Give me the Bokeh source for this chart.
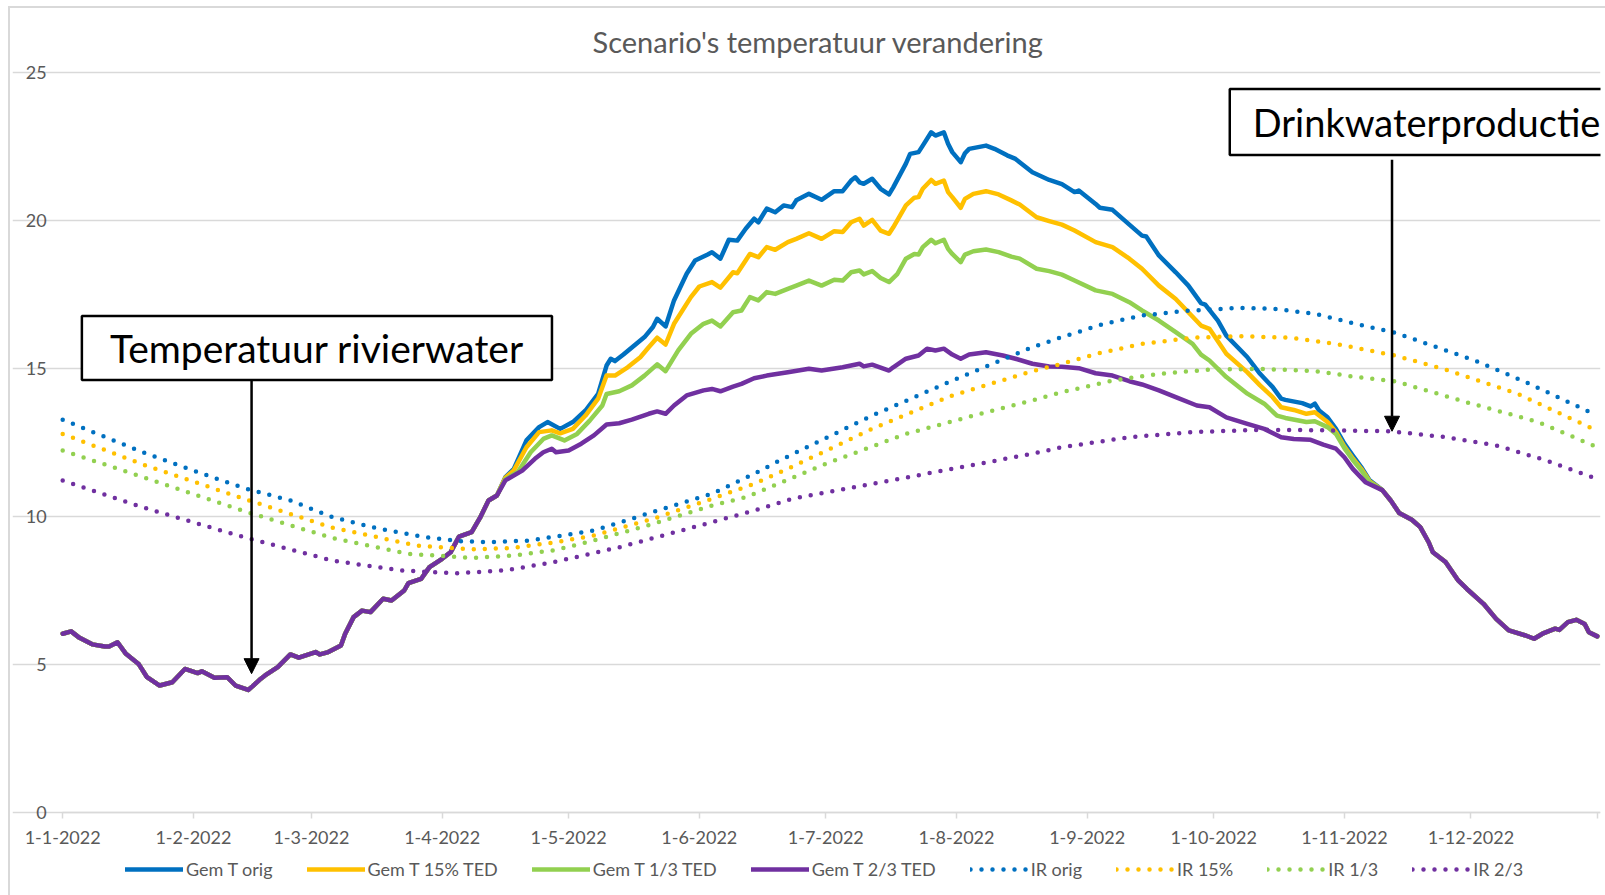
from bokeh.plotting import figure
from bokeh.models import (Range1d, FixedTicker, Legend, LegendItem, Label, Arrow, NormalHead)
from bokeh.embed import file_html
from bokeh.resources import INLINE

# ---------------- data ----------------
title_text = "Scenario's temperatuur verandering"

month_days = [0, 31, 59, 90, 120, 151, 181, 212, 243, 273, 304, 334, 364]
month_labels = ["1-1-2022", "1-2-2022", "1-3-2022", "1-4-2022", "1-5-2022", "1-6-2022",
                "1-7-2022", "1-8-2022", "1-9-2022", "1-10-2022", "1-11-2022", "1-12-2022", ""]
y_ticks = [0, 5, 10, 15, 20, 25]
day_first, day_last = 0, 364.75

# part shared by all four river-water series (Jan - mid Apr)
start_days = [0, 2, 4, 7, 10, 11, 13, 15, 18, 20, 23, 26, 29, 32, 33, 36, 39, 41, 44, 45,
              47, 48, 51, 54, 56, 60, 61, 63, 66, 67, 69, 71, 73, 76, 78, 81, 82, 85, 87, 90,
              92, 94, 97, 99, 101, 103]
start_temp = [6.03, 6.11, 5.89, 5.67, 5.60, 5.60, 5.74, 5.35, 5.01, 4.56, 4.28, 4.39, 4.84, 4.70,
              4.76, 4.54, 4.56, 4.28, 4.13, 4.25, 4.51, 4.62, 4.90, 5.33, 5.22, 5.41, 5.33, 5.41,
              5.63, 6.03, 6.59, 6.81, 6.76, 7.21, 7.15, 7.49, 7.74, 7.88, 8.28, 8.56, 8.78, 9.31,
              9.46, 9.95, 10.53, 10.70]

# part shared by all four river-water series (Nov - Dec)
end_days = [313, 315, 317, 320, 322, 324, 325, 328, 331, 333, 337, 340, 343, 347, 349, 351,
            354, 355, 357, 359, 361, 362, 364]
end_temp = [10.88, 10.53, 10.11, 9.88, 9.63, 9.12, 8.78, 8.45, 7.83, 7.55, 7.04, 6.53, 6.14,
            5.97, 5.86, 6.03, 6.20, 6.16, 6.42, 6.50, 6.36, 6.08, 5.94]

orig_days = [105, 107, 110, 113, 115, 118, 121, 124, 127, 129, 130, 131, 133, 136, 138, 140, 141,
             143, 145, 148, 150, 153, 154, 156, 158, 160, 162, 164, 165, 167, 169, 171, 173, 174,
             177, 180, 183, 185, 187, 188, 189, 190, 192, 194, 196, 197, 200, 201, 203, 204, 206,
             207, 209, 210, 211, 213, 214, 215, 219, 221, 224, 226, 230, 234, 237, 240, 241, 245,
             246, 249, 253, 256, 257, 260, 264, 267, 270, 271, 274, 276, 281, 284, 287, 289, 290,
             294, 296, 297, 298, 300, 302, 304, 306, 308, 310]
orig_temp = [11.32, 11.60, 12.56, 13.01, 13.18, 12.95, 13.18, 13.57, 14.13, 15.09, 15.32, 15.24,
             15.46, 15.82, 16.05, 16.39, 16.67, 16.41, 17.29, 18.19, 18.64, 18.84, 18.92, 18.70,
             19.34, 19.31, 19.71, 20.05, 19.93, 20.39, 20.27, 20.50, 20.44, 20.67, 20.89, 20.69,
             20.98, 20.98, 21.34, 21.45, 21.28, 21.23, 21.40, 21.06, 20.87, 21.11, 21.91, 22.24,
             22.30, 22.52, 22.97, 22.86, 22.97, 22.58, 22.30, 21.96, 22.26, 22.41, 22.52, 22.41,
             22.19, 22.07, 21.62, 21.36, 21.22, 20.95, 21.00, 20.55, 20.42, 20.35, 19.85, 19.48,
             19.45, 18.81, 18.24, 17.79, 17.20, 17.15, 16.61, 16.10, 15.37, 14.81, 14.36, 13.97,
             13.93, 13.82, 13.71, 13.80, 13.57, 13.34, 12.95, 12.45, 12.05, 11.66, 11.21]

ted15_days = [105, 107, 110, 113, 116, 118, 121, 124, 127, 129, 131, 134, 137, 139, 141, 143, 145,
              149, 151, 154, 156, 159, 160, 163, 165, 167, 169, 172, 174, 177, 180, 183, 185, 187,
              189, 190, 192, 194, 196, 197, 200, 202, 203, 204, 206, 207, 209, 210, 211, 213, 214,
              216, 219, 222, 225, 227, 231, 234, 237, 240, 245, 249, 253, 256, 260, 264, 267, 270,
              272, 276, 281, 284, 287, 289, 292, 295, 297, 300, 302, 304, 306, 308, 310]
ted15_temp = [11.30, 11.55, 12.33, 12.84, 12.90, 12.80, 12.95, 13.40, 13.97, 14.75, 14.75, 15.03,
              15.37, 15.71, 16.03, 15.80, 16.50, 17.40, 17.76, 17.91, 17.72, 18.24, 18.21, 18.86,
              18.75, 19.09, 19.00, 19.26, 19.37, 19.56, 19.37, 19.63, 19.60, 19.93, 20.05, 19.82,
              20.01, 19.65, 19.54, 19.76, 20.50, 20.76, 20.78, 21.06, 21.36, 21.23, 21.34, 20.95,
              20.78, 20.42, 20.72, 20.89, 20.98, 20.87, 20.67, 20.53, 20.10, 19.97, 19.85, 19.65,
              19.26, 19.09, 18.70, 18.36, 17.79, 17.34, 16.89, 16.44, 16.33, 15.49, 14.86, 14.42,
              14.02, 13.68, 13.59, 13.46, 13.51, 13.18, 12.84, 12.35, 11.95, 11.60, 11.18]

ted13_days = [105, 108, 111, 114, 116, 119, 122, 125, 128, 129, 132, 135, 138, 141, 143, 146, 149,
              152, 154, 156, 159, 161, 163, 165, 167, 169, 172, 174, 177, 180, 183, 185, 187, 189,
              190, 192, 194, 196, 198, 200, 202, 203, 204, 206, 207, 209, 210, 211, 213, 214, 216,
              219, 222, 225, 227, 231, 234, 237, 240, 245, 249, 253, 256, 260, 264, 268, 270, 272,
              276, 281, 285, 288, 290, 295, 297, 300, 302, 304, 306, 308, 310]
ted13_temp = [11.25, 11.50, 12.16, 12.61, 12.73, 12.56, 12.78, 13.23, 13.74, 14.13, 14.22, 14.42,
              14.75, 15.13, 14.90, 15.60, 16.16, 16.50, 16.61, 16.41, 16.89, 16.95, 17.40, 17.29,
              17.57, 17.51, 17.68, 17.79, 17.96, 17.79, 17.99, 17.96, 18.24, 18.30, 18.17, 18.28,
              18.05, 17.91, 18.19, 18.70, 18.86, 18.84, 19.09, 19.34, 19.22, 19.34, 19.03, 18.86,
              18.58, 18.84, 18.95, 19.01, 18.92, 18.77, 18.70, 18.36, 18.28, 18.16, 17.96, 17.63,
              17.51, 17.23, 16.95, 16.61, 16.22, 15.82, 15.46, 15.26, 14.70, 14.14, 13.80, 13.40,
              13.32, 13.18, 13.21, 13.01, 12.78, 12.30, 11.90, 11.55, 11.15]

ted23_days = [105, 109, 112, 114, 116, 117, 120, 123, 126, 129, 132, 135, 139, 141, 143, 145, 148,
              152, 154, 156, 159, 161, 164, 167, 172, 177, 180, 185, 189, 190, 192, 196, 197, 200,
              203, 205, 207, 209, 211, 213, 215, 219, 223, 226, 230, 234, 237, 241, 245, 249, 253,
              256, 260, 264, 269, 272, 276, 281, 285, 289, 292, 296, 299, 302, 304, 306, 309]
ted23_temp = [11.21, 11.54, 11.94, 12.16, 12.28, 12.16, 12.22, 12.45, 12.73, 13.10, 13.14, 13.26,
              13.46, 13.54, 13.46, 13.74, 14.08, 14.25, 14.30, 14.22, 14.38, 14.47, 14.66, 14.75,
              14.86, 14.98, 14.92, 15.03, 15.15, 15.06, 15.12, 14.92, 15.03, 15.32, 15.43, 15.66,
              15.60, 15.66, 15.46, 15.32, 15.46, 15.54, 15.43, 15.32, 15.15, 15.06, 15.05, 15.00,
              14.83, 14.75, 14.56, 14.45, 14.25, 14.02, 13.74, 13.68, 13.34, 13.12, 12.95, 12.67,
              12.61, 12.58, 12.42, 12.28, 11.99, 11.60, 11.15]

ir_orig_days = [0, 19, 31, 43, 54, 64, 74, 86, 94, 101, 111, 126, 140, 154, 164, 170, 192, 211,
                230, 237, 247, 256, 266, 279, 287, 297, 306, 316, 335, 347, 364]
ir_orig = [13.26, 12.16, 11.54, 10.95, 10.53, 9.97, 9.61, 9.29, 9.16, 9.12, 9.18, 9.52, 10.14,
           10.76, 11.43, 11.88, 13.40, 14.58, 15.71, 16.05, 16.50, 16.78, 16.93, 17.04, 17.01,
           16.84, 16.52, 16.20, 15.26, 14.53, 13.40]

ir_15_days = [0, 19, 43, 64, 84, 97, 106, 117, 126, 140, 154, 164, 173, 192, 211, 230, 237, 246,
              256, 268, 279, 291, 302, 316, 328, 345, 363]
ir_15 = [12.78, 11.75, 10.59, 9.61, 9.01, 8.88, 8.92, 9.12, 9.35, 9.91, 10.59, 11.09, 11.67,
         12.95, 14.08, 14.90, 15.15, 15.51, 15.82, 16.03, 16.08, 16.03, 15.82, 15.43, 14.95,
         14.14, 12.95]

ir_13_days = [0, 19, 43, 64, 82, 97, 107, 117, 126, 140, 154, 162, 181, 200, 219, 230, 237, 249,
              260, 272, 284, 297, 306, 316, 333, 350, 364]
ir_13 = [12.22, 11.32, 10.17, 9.26, 8.73, 8.59, 8.67, 8.86, 9.18, 9.74, 10.36, 10.64, 11.77,
         12.78, 13.51, 13.91, 14.19, 14.58, 14.81, 14.95, 14.98, 14.90, 14.72, 14.56, 13.85,
         13.18, 12.33]

ir_23_days = [0, 19, 43, 64, 80, 93, 105, 115, 120, 132, 144, 164, 173, 192, 211, 230, 237, 253,
              268, 284, 300, 315, 328, 340, 352, 364]
ir_23 = [11.21, 10.30, 9.29, 8.50, 8.17, 8.07, 8.17, 8.41, 8.56, 8.95, 9.41, 10.19, 10.59, 11.09,
         11.60, 12.11, 12.33, 12.67, 12.84, 12.92, 12.90, 12.87, 12.67, 12.39, 11.88, 11.26]

series_names = ["Gem T orig", "Gem T 15% TED", "Gem T 1/3 TED", "Gem T 2/3 TED",
                "IR orig", "IR 15%", "IR 1/3", "IR 2/3"]
colors = ["#0070C0", "#FFC000", "#92D050", "#7030A0"]

# annotations (data coordinates)
ann1_text, ann1_x, ann1_y = "Temperatuur rivierwater", 60.3, 15.68
arrow1_x, arrow1_y0, arrow1_y1 = 44.8, 14.9, 4.68
ann2_text, ann2_x, ann2_y = "Drinkwaterproductie", 323.5, 23.32
arrow2_x, arrow2_y0, arrow2_y1 = 315.3, 22.04, 12.87

# ---------------- figure ----------------
GREY_TXT = "#595959"
GRID = "#d9d9d9"
FONT = "Lato"

# The frame is widened (left, top) and stretched down to the page bottom so that the
# axis labels and the legend are not clipped; both axes are pinned at 0.
p = figure(frame_width=1588, frame_height=835, x_range=Range1d(-11.905, day_last),
           y_range=Range1d(-2.814, 25.395),
           output_backend="svg", toolbar_location=None, title=title_text,
           min_border_left=12, min_border_right=5, min_border_top=60, min_border_bottom=0,
           background_fill_color="white", border_fill_color=None, outline_line_color=None)
p.styles = {"background": "linear-gradient(#d9d9d9, #d9d9d9) 8px 6px / 2px 100% no-repeat, "
                          "linear-gradient(#d9d9d9, #d9d9d9) 8px 6px / 100% 2px no-repeat"}

p.title.align = "left"
p.title.offset = 580
p.title.standoff = 3
p.title.text_font = FONT
p.title.text_font_size = "29px"
p.title.text_font_style = "normal"
p.title.text_color = GREY_TXT

p.xgrid.visible = False
p.ygrid.grid_line_color = GRID
p.ygrid.grid_line_width = 1.3
p.ygrid.ticker = FixedTicker(ticks=y_ticks)
p.ygrid.bounds = (day_first, day_last)

xa = p.xaxis[0]
xa.fixed_location = 0
xa.bounds = (day_first, day_last)
xa.ticker = FixedTicker(ticks=month_days)
xa.major_label_overrides = {d: l for d, l in zip(month_days, month_labels)}
xa.axis_line_color = GRID
xa.axis_line_width = 1.5
xa.major_tick_line_color = GRID
xa.major_tick_line_width = 1.5
xa.major_tick_out = 6
xa.major_tick_in = 0
xa.minor_tick_line_color = None
xa.major_label_text_font = FONT
xa.major_label_text_font_size = "18px"
xa.major_label_text_color = GREY_TXT
xa.major_label_standoff = 13

ya = p.yaxis[0]
ya.fixed_location = 0
ya.bounds = (0, 25)
ya.ticker = FixedTicker(ticks=y_ticks)
ya.axis_line_color = None
ya.major_tick_line_color = None
ya.minor_tick_line_color = None
ya.major_label_text_font = FONT
ya.major_label_text_font_size = "18px"
ya.major_label_text_color = GREY_TXT
ya.major_label_standoff = 10

mids = [(orig_days, orig_temp), (ted15_days, ted15_temp), (ted13_days, ted13_temp),
        (ted23_days, ted23_temp)]
renderers = []
for (md, mt), c in zip(mids, colors):
    xs = start_days + md + end_days
    ys = start_temp + mt + end_temp
    r = p.line(xs, ys, line_color=c, line_width=4.5, line_join="round", line_cap="round")
    renderers.append(r)

irs = [(ir_orig_days, ir_orig), (ir_15_days, ir_15), (ir_13_days, ir_13), (ir_23_days, ir_23)]
for (d, v), c in zip(irs, colors):
    r = p.line(d, v, line_color=c, line_width=4.5, line_dash="0 11", line_cap="round",
               line_join="round")
    renderers.append(r)

items = [LegendItem(label=n, renderers=[r]) for n, r in zip(series_names, renderers)]
legend = Legend(items=items, orientation="horizontal", location=(113, 15),
                glyph_width=58, glyph_height=18, label_standoff=3, spacing=34, padding=0,
                margin=0, border_line_color=None, background_fill_color=None,
                background_fill_alpha=0, label_text_font=FONT, label_text_font_size="18px",
                label_text_color=GREY_TXT, label_height=18)
p.add_layout(legend)

# annotations: arrows first, then boxed labels on top
for ax, y0, y1 in [(arrow1_x, arrow1_y0, arrow1_y1), (arrow2_x, arrow2_y0, arrow2_y1)]:
    p.add_layout(Arrow(x_start=ax, y_start=y0, x_end=ax, y_end=y1, line_color="black",
                       line_width=2.5,
                       end=NormalHead(size=15, fill_color="black", line_color="black",
                                      line_width=1)))

for txt, x, y, fs, pad in [(ann1_text, ann1_x, ann1_y, "39px", (28, 9)),
                           (ann2_text, ann2_x, ann2_y, "38px", (23, 10))]:
    p.add_layout(Label(x=x, y=y, text=txt, text_align="center", text_baseline="middle",
                       text_font=FONT, text_font_size=fs, text_color="black",
                       border_line_color="black", border_line_width=2.5,
                       background_fill_color="white", padding=pad))

open("out.html", "w").write(file_html(p, INLINE))
